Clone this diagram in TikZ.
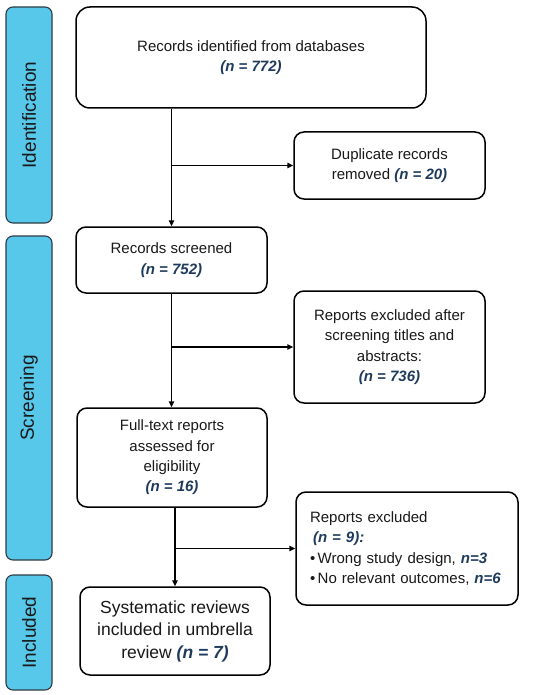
\documentclass[tikz,border=0pt]{standalone}
\usepackage{fontspec}
\setmainfont{Liberation Sans}
\usetikzlibrary{arrows.meta}
\definecolor{barblue}{HTML}{58C8EA}
\definecolor{nblue}{HTML}{1F3B5C}
\definecolor{bardraw}{HTML}{2E3B44}
\newcommand{\nval}[1]{\textcolor{nblue}{\textbf{\textit{#1}}}}
\begin{document}
\begin{tikzpicture}[x=1pt,y=-1pt,
  box/.style={draw=black, line width=1.5pt, rounded corners=10pt, fill=white, align=center, inner sep=0pt, font=\fontsize{15}{20.3}\selectfont, text=black!90},
  bar/.style={draw=bardraw, line width=1.1pt, fill=barblue, rounded corners=7pt, inner sep=0pt, font=\fontsize{19}{22}\selectfont, text=black!90},
  arr/.style={line width=1.5pt, -{Triangle[length=6pt,width=5.5pt]}}]
\useasboundingbox (0,0) rectangle (550,695);
% side bars
\node[bar, minimum width=216pt, minimum height=46pt, rotate=90] (idbar) at (29,115) {Identification};
\node[bar, minimum width=324pt, minimum height=46pt, rotate=90] (scbar) at (29,398) {Screening};
\node[bar, minimum width=115pt, minimum height=46pt, rotate=90] (inbar) at (29,632.5) {Included};
% boxes
\node[box, rounded corners=14pt, minimum width=350pt, minimum height=101pt] (id) at (251,57.5) {Records identified from databases\\ \nval{(n = 772)}};
\node[box, minimum width=191pt, minimum height=67pt] (dup) at (389.5,165.5) {Duplicate records\\ removed \nval{(n = 20)}};
\node[box, minimum width=191pt, minimum height=66pt] (scr) at (171.5,260) {Records screened\\ \nval{(n = 752)}};
\node[box, minimum width=191pt, minimum height=112pt] (ex1) at (389.5,347) {Reports excluded after\\ screening titles and\\ abstracts:\\ \nval{(n = 736)}};
\node[box, minimum width=190pt, minimum height=99pt] (ft) at (172,457.5) {Full-text reports\\ assessed for\\ eligibility\\ \nval{(n = 16)}};
\node[box, minimum width=222pt, minimum height=113pt, text width=194pt, align=left] (ex2) at (407,548.5) {Reports excluded\\ \hspace*{3pt}\nval{(n = 9):}\\ \textbullet\,Wrong study design, \nval{n=3}\\ \textbullet\,No relevant outcomes, \nval{n=6}};
\node[box, minimum width=190pt, minimum height=88pt, font=\fontsize{17.5}{22.5}\selectfont] (sys) at (175,631) {Systematic reviews\\ included in umbrella\\ review \nval{(n = 7)}};
% connectors
\draw[arr] (scr.north |- id.south) -- (scr.north);
\draw[arr] (scr.north |- dup.west) -- (dup.west);
\draw[arr] (scr.south) -- (scr.south |- ft.north);
\draw[arr] (scr.south |- ex1.west) -- (ex1.west);
\draw[arr] (sys.north |- ft.south) -- (sys.north);
\draw[arr] (sys.north |- ex2.west) -- (ex2.west);
\end{tikzpicture}
\end{document}
